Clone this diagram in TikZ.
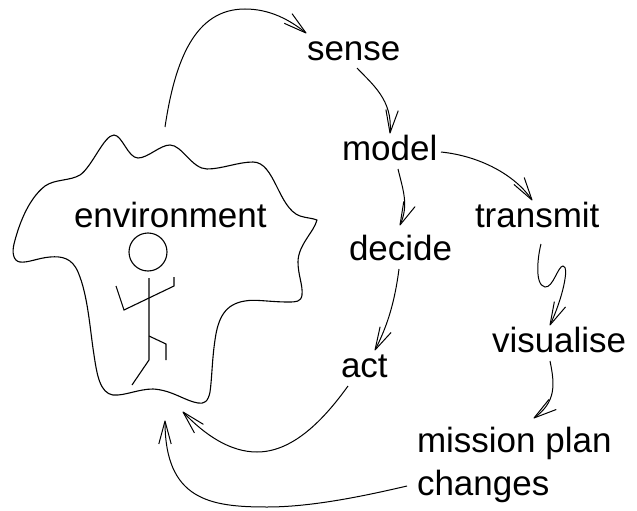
\documentclass[tikz,border=0pt]{standalone}
\usepackage{fontspec}
\setmainfont{Liberation Sans}
\usetikzlibrary{arrows.meta}
\pgfdeclarearrow{
  name=OpenVee,
  setup code={
    \pgfarrowssettipend{0pt}
    \pgfarrowssetlineend{-0.5pt}
    \pgfarrowssetvisualbackend{-0.5pt}
    \pgfarrowssetbackend{-23pt}
    \pgfarrowshullpoint{0pt}{0pt}
    \pgfarrowshullpoint{-23pt}{6.2pt}
    \pgfarrowshullpoint{-23pt}{-6.2pt}
  },
  drawing code={
    \pgfsetdash{}{0pt}
    \pgfsetroundjoin
    \pgfpathmoveto{\pgfqpoint{-23pt}{6.2pt}}
    \pgfpathlineto{\pgfqpoint{0pt}{0pt}}
    \pgfpathlineto{\pgfqpoint{-23pt}{-6.2pt}}
    \pgfusepathqstroke
  },
  defaults={}
}
\tikzset{
  lbl/.style={anchor=base west,inner sep=0pt,outer sep=0pt,font=\fontsize{35}{40}\selectfont},
  conn/.style={line width=1pt,-{OpenVee}},
  outline/.style={line width=1.1pt,line join=round},
  figure/.style={line width=1.1pt,line join=miter}
}
\begin{document}
\begin{tikzpicture}[x=1pt,y=-1pt]
\useasboundingbox (0,0) rectangle (637,511);
% labels
\node[lbl] (env) at (74,227) {environment};
\node[lbl] (sense) at (307,60) {sense};
\node[lbl] (model) at (342,160) {model};
\node[lbl] (transmit) at (475,227) {transmit};
\node[lbl] (decide) at (349,260) {decide};
\node[lbl] (act) at (341,377) {act};
\node[lbl] (visualise) at (492,352) {visualise};
\node[lbl] (mission) at (417,452) {mission plan};
\node[lbl] (changes) at (417,495) {changes};
% environment outline
\draw[outline] (114,135)
  .. controls (122,135) and (128,158) .. (138,158)
  .. controls (148,158) and (160,145) .. (170,145)
  .. controls (182,145) and (192,169) .. (207,169)
  .. controls (222,169) and (238,162) .. (253,162)
  .. controls (275,162) and (278,208) .. (300,216)
  .. controls (306,218) and (312,218) .. (317,220)
  .. controls (314,232) and (298,245) .. (298,262)
  .. controls (298,275) and (303,285) .. (302,295)
  .. controls (301,302) and (296,302) .. (288,302)
  .. controls (270,302) and (255,299) .. (245,301)
  .. controls (225,304) and (218,318) .. (215,340)
  .. controls (212,360) and (212,378) .. (210,392)
  .. controls (208,402) and (204,404) .. (198,403)
  .. controls (185,401) and (172,390) .. (153,389)
  .. controls (138,389) and (125,396) .. (113,395)
  .. controls (100,393) and (97,375) .. (94,355)
  .. controls (90,330) and (88,295) .. (78,272)
  .. controls (72,258) and (62,256) .. (50,257)
  .. controls (38,258) and (28,263) .. (20,262)
  .. controls (13,261) and (12,252) .. (14,244)
  .. controls (18,228) and (27,200) .. (45,186)
  .. controls (55,179) and (70,181) .. (80,175)
  .. controls (92,167) and (104,135) .. (114,135) -- cycle;
% figure
\draw[figure] (148,252) circle (19);
\draw[figure] (149,278) -- (149,360) -- (132,385);
\draw[figure] (116,286) -- (124,310) -- (174,286) -- (174,277);
\draw[figure] (149,336) -- (166,344) -- (166,360);
% connector ends at the outline
\coordinate (envout) at (165,127);
\coordinate (envina) at (183,412);
\coordinate (envinb) at (165,421);
% connectors
\draw[conn] (envout) .. controls (175,60) and (195,9) .. (245,9)
  .. controls (270,9) and (290,20) .. ([shift={(-1,-27)}]sense.base west);
\draw[conn] ([shift={(50,8)}]sense.base west) .. controls (372,84) and (393,100) .. ([shift={(48,-27)}]model.base west);
\draw[conn] ([shift={(99,-8)}]model.base west) .. controls (480,156) and (515,175) .. ([shift={(57,-27)}]transmit.base west);
\draw[conn] ([shift={(56,9)}]model.base west) .. controls (403,190) and (409,205) .. ([shift={(51,-35)}]decide.base west);
\draw[conn] ([shift={(50,9)}]decide.base west) .. controls (395,300) and (388,325) .. ([shift={(34,-27)}]act.base west);
\draw[conn] ([shift={(7,9)}]act.base west) .. controls (320,425) and (290,452) .. (257,452)
  .. controls (230,452) and (205,435) .. (envina);
\draw[conn] ([shift={(-10,-9)}]changes.base west) .. controls (360,497) and (310,507) .. (267,507)
  .. controls (210,507) and (165,500) .. (envinb);
\draw[conn] ([shift={(66,17)}]transmit.base west) .. controls (538,255) and (534,285) .. (545,287)
  .. controls (553,288) and (558,266) .. (563,266)
  .. controls (570,266) and (562,300) .. ([shift={(58,-27)}]visualise.base west);
\draw[conn] ([shift={(58,9)}]visualise.base west) .. controls (555,385) and (556,402) .. ([shift={(117,-34)}]mission.base west);
\end{tikzpicture}
\end{document}
